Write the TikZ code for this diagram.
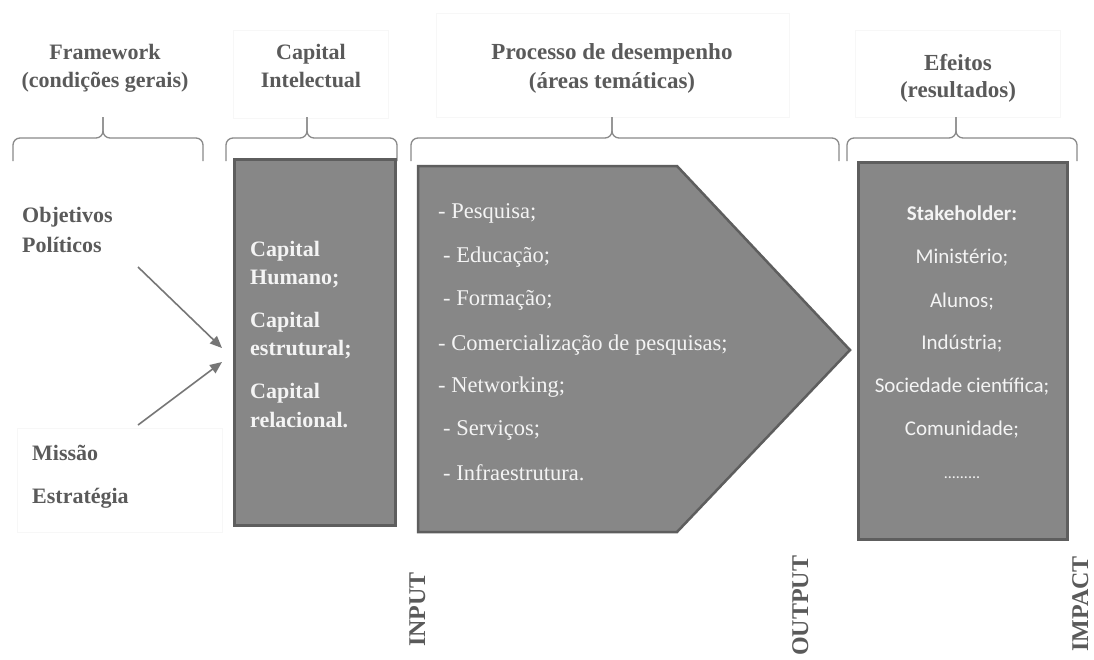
\documentclass[tikz,border=0pt]{standalone}
\usepackage{fontspec}
\setmainfont{Liberation Serif}
\newfontfamily\calfont{Carlito}
\usetikzlibrary{arrows.meta}
\definecolor{boxfill}{HTML}{878787}
\definecolor{boxline}{HTML}{5E5E5E}
\definecolor{titlegray}{HTML}{5A5A5A}
\definecolor{bracegray}{HTML}{8A8A8A}
\definecolor{arrowgray}{HTML}{767676}
\definecolor{boxtext}{HTML}{F4F4F4}
\definecolor{faint}{HTML}{F7F7F7}
\newcommand\mybrace[3]{%
  \draw[bracestyle] (#1,161) -- (#1,138) -- (#3,138) -- (#3,117);
  \draw[bracestyle] (#2,161) -- (#2,138) -- (#3,138) -- (#3,117);}
\begin{document}
\begin{tikzpicture}[x=1pt,y=-1pt,
  title/.style={font=\bfseries\fontsize{22}{28}\selectfont, text=titlegray, inner sep=0pt, anchor=base},
  bigtitle/.style={font=\bfseries\fontsize{23}{28}\selectfont, text=titlegray, inner sep=0pt, anchor=base},
  sidelabel/.style={font=\bfseries\fontsize{22}{28}\selectfont, text=titlegray, inner sep=0pt, anchor=base west},
  captext/.style={font=\bfseries\fontsize{22}{28}\selectfont, text=boxtext, inner sep=0pt, anchor=base west},
  proctext/.style={font=\fontsize{22.5}{28}\selectfont, text=boxtext, inner sep=0pt, anchor=base west},
  stktext/.style={font=\calfont\fontsize{21}{26}\selectfont, text=boxtext, inner sep=0pt, anchor=base},
  vlabel/.style={font=\bfseries\fontsize{24}{28}\selectfont, text=titlegray, inner sep=0pt, rotate=90, anchor=base west},
  darkbox/.style={fill=boxfill, draw=boxline, line width=2.5pt},
  bracestyle/.style={draw=bracegray, line width=1.3pt, rounded corners=7pt},
  faintbox/.style={draw=faint, line width=0.8pt},
  inarrow/.style={draw=arrowgray, line width=1.6pt, -{Triangle[length=12pt,width=10pt]}}]
\useasboundingbox (0,0) rectangle (1094,659);
\fill[white] (0,0) rectangle (1094,659);

% faint frames
\draw[faintbox] (233,30) rectangle (388,118);
\draw[faintbox] (436,13) rectangle (789,117);
\draw[faintbox] (855,30) rectangle (1060,117);
\draw[faintbox] (17,428) rectangle (222,532);

% titles
\node[title] (f1) at (105,59) {Framework};
\node[title] (f2) at (105,87) {(condições gerais)};
\node[title] (c1) at (311,59) {Capital};
\node[title] (c2) at (311,87) {Intelectual};
\node[bigtitle] (p1) at (612,59) {Processo de desempenho};
\node[bigtitle] (p2) at (612,88) {(áreas temáticas)};
\node[bigtitle] (e1) at (958,70) {Efeitos};
\node[bigtitle] (e2) at (958,97) {(resultados)};

% braces
\mybrace{13}{203}{103}
\mybrace{226}{397}{307}
\mybrace{411}{839}{612}
\mybrace{847}{1077}{956}

% left labels
\node[sidelabel] (obj) at (22,222) {Objetivos};
\node[sidelabel] (pol) at (22,252) {Políticos};
\node[sidelabel] (mis) at (32,460) {Missão};
\node[sidelabel] (est) at (32,503) {Estratégia};

% capital box
\node[darkbox, minimum width=161pt, minimum height=366pt, anchor=north west, inner sep=0pt] (cap) at (233,158) {};
\node[captext] (ca1) at (250,256) {Capital};
\node[captext] (ca2) at (250,284) {Humano;};
\node[captext] (ca3) at (250,327) {Capital};
\node[captext] (ca4) at (250,355) {estrutural;};
\node[captext] (ca5) at (250,398) {Capital};
\node[captext] (ca6) at (250,427) {relacional.};

% arrows
\coordinate (a1s) at (138,267);
\coordinate (a1e) at (222,348);
\coordinate (a2s) at (138,425);
\coordinate (a2e) at (222,362);
\draw[inarrow] (a1s) -- (a1e);
\draw[inarrow] (a2s) -- (a2e);

% process pentagon
\coordinate (pa) at (418,166);
\coordinate (pb) at (677,166);
\coordinate (pc) at (850,350);
\coordinate (pd) at (677,532);
\coordinate (pe) at (418,532);
\draw[darkbox, line join=miter] (pa) -- (pb) -- (pc) -- (pd) -- (pe) -- cycle;
\node[proctext] (t1) at (438,218) {- Pesquisa;};
\node[proctext] (t2) at (443,262) {- Educação;};
\node[proctext] (t3) at (443,305) {- Formação;};
\node[proctext] (t4) at (438,350) {- Comercialização de pesquisas;};
\node[proctext] (t5) at (438,392) {- Networking;};
\node[proctext] (t6) at (443,435) {- Serviços;};
\node[proctext] (t7) at (443,480) {- Infraestrutura.};

% effects box
\node[darkbox, minimum width=209pt, minimum height=377pt, anchor=north west, inner sep=0pt] (eff) at (857,161) {};
\node[stktext, font=\calfont\bfseries\fontsize{21}{26}\selectfont] (s0) at (962,220) {Stakeholder:};
\node[stktext] (s1) at (962,263) {Ministério;};
\node[stktext] (s2) at (962,307) {Alunos;};
\node[stktext] (s3) at (962,349) {Indústria;};
\node[stktext] (s4) at (962,392) {Sociedade científica;};
\node[stktext] (s5) at (962,435) {Comunidade;};
\node[stktext, font=\calfont\fontsize{16}{20}\selectfont] (s6) at (962,478) {.........};

% vertical labels
\node[vlabel] (vin) at (425,647) {INPUT};
\node[vlabel] (vout) at (808,656) {OUTPUT};
\node[vlabel] (vimp) at (1088,652) {IMPACT};
\end{tikzpicture}
\end{document}
